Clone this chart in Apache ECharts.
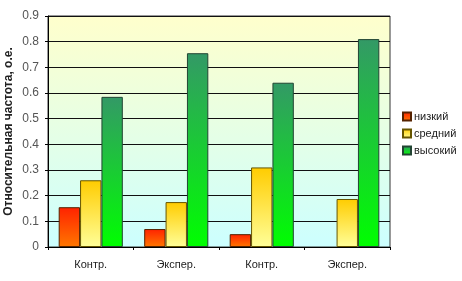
<!DOCTYPE html>
<html><head><meta charset="utf-8">
<script src="https://cdn.jsdelivr.net/npm/echarts@6/dist/echarts.min.js"></script>
<style>html,body{margin:0;padding:0;background:#fff}#c{width:462px;height:281px}</style>
</head><body><div id="c"></div>
<script>
var categories = ['Контр.', 'Экспер.', 'Контр.', 'Экспер.'];
var seriesNames = ['низкий', 'средний', 'высокий'];
var lowValues = [0.155, 0.07, 0.05, 0];
var midValues = [0.26, 0.175, 0.31, 0.187];
var highValues = [0.585, 0.755, 0.64, 0.81];
var yTicks = [0, 0.1, 0.2, 0.3, 0.4, 0.5, 0.6, 0.7, 0.8, 0.9];

function grad(top, bottom) {
  return {type:'linear', x:0, y:0, x2:0, y2:1, colorStops:[{offset:0,color:top},{offset:1,color:bottom}]};
}
function toData(arr) {
  return arr.map(function (v) { return v === 0 ? {value: v, itemStyle: {borderWidth: 0}} : v; });
}
var font = 'Liberation Sans, Arial, sans-serif';
var chart = echarts.init(document.getElementById('c'));
chart.setOption({
  animation: false,
  textStyle: {fontFamily: font},
  grid: {left: 48, right: 72, top: 16, bottom: 34, show: true, containLabel: false, outerBoundsMode: 'none',
    backgroundColor: grad('#FFFFCC', '#CCFFFF'), borderColor: '#333', borderWidth: 1},
  legend: {
    orient: 'vertical', left: 397, top: 106, itemWidth: 8, itemHeight: 8, itemGap: 6,
    icon: 'rect', textStyle: {fontSize: 11, color: '#222', fontFamily: font, padding: [0, 0, 0, -2]},
    data: seriesNames
  },
  xAxis: {
    type: 'category', data: categories,
    axisLine: {lineStyle: {color: '#000'}},
    axisTick: {show: true, length: 3, lineStyle: {color: '#000'}},
    axisLabel: {fontSize: 11, color: '#222', margin: 12, fontFamily: font}
  },
  yAxis: {
    type: 'value', min: 0, max: 0.9, interval: 0.1,
    name: 'Относительная частота, о.е.', nameLocation: 'middle', nameGap: 33, nameMoveOverlap: false,
    nameTextStyle: {fontSize: 12, fontWeight: 'bold', color: '#222', fontFamily: font},
    axisLine: {show: true, lineStyle: {color: '#000'}},
    axisTick: {show: true, length: 3, lineStyle: {color: '#000'}},
    axisLabel: {fontSize: 12, color: '#555', margin: 9, fontFamily: font,
      formatter: function (v) { var i = Math.round(v * 10); return yTicks[i] === 0 ? '0' : yTicks[i].toFixed(1); }},
    splitLine: {lineStyle: {color: '#111', width: 1}}
  },
  series: [
    {name: seriesNames[0], type: 'bar', data: toData(lowValues), barGap: '0%', barCategoryGap: '25%',
      itemStyle: {color: grad('#FF2200', '#FF7700'), borderColor: '#552200', borderWidth: 1}},
    {name: seriesNames[1], type: 'bar', data: toData(midValues),
      itemStyle: {color: grad('#FFCC00', '#FFFF99'), borderColor: '#665500', borderWidth: 1}},
    {name: seriesNames[2], type: 'bar', data: toData(highValues),
      itemStyle: {color: grad('#339966', '#00FF00'), borderColor: '#224433', borderWidth: 1}}
  ]
});
</script></body></html>
